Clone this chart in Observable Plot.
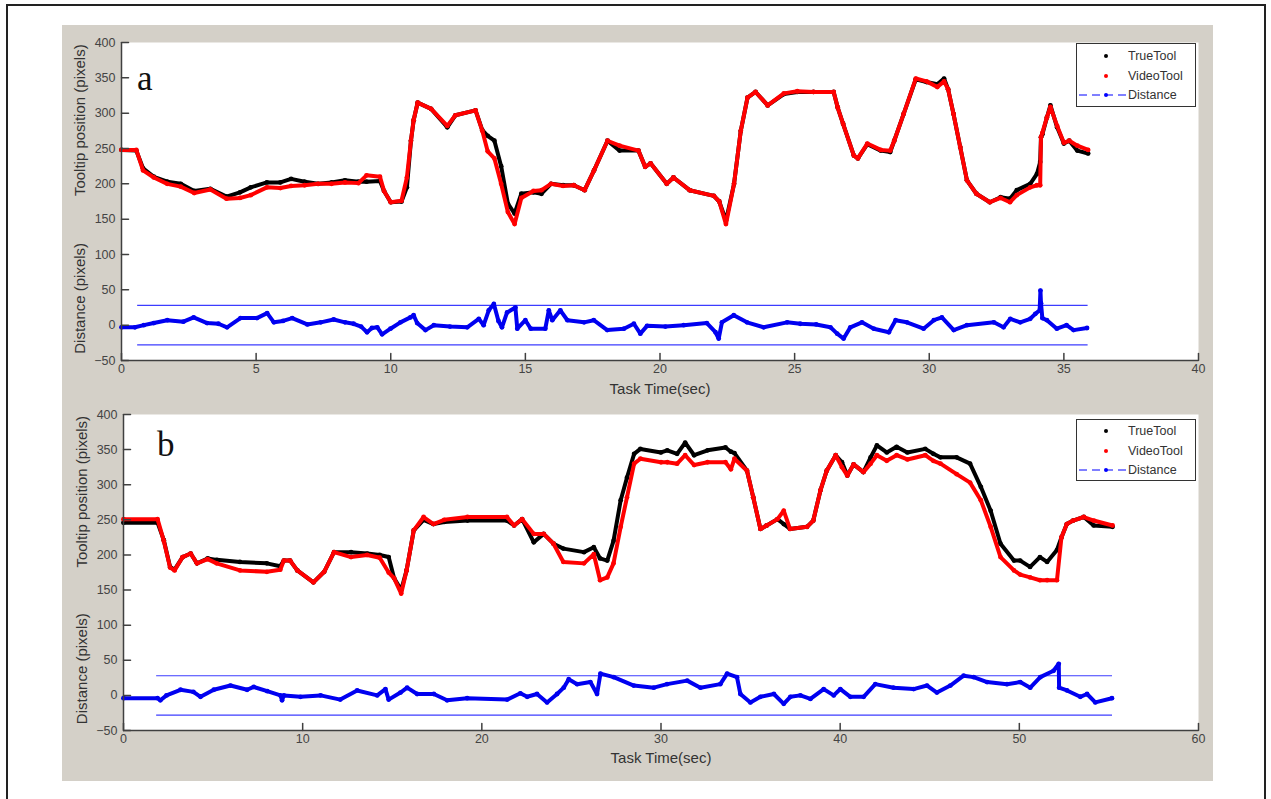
<!DOCTYPE html>
<html><head><meta charset="utf-8">
<script src="https://cdn.jsdelivr.net/npm/d3@7"></script>
<script src="https://cdn.jsdelivr.net/npm/@observablehq/plot@0.6"></script>
<style>
body{margin:0;background:#fff;}
#wrap{position:relative;width:1271px;height:799px;overflow:hidden;font-family:"Liberation Sans",Arial,sans-serif;background:#fff;}
#border{position:absolute;left:6px;top:4px;width:1260px;height:820px;border:2px solid #222;box-sizing:border-box;}
#fig{position:absolute;left:62px;top:25px;width:1151px;height:756px;background:#d4d0c8;}
.panel{position:absolute;left:0;}
.legend{position:absolute;left:1014px;width:120px;background:#fff;border:1.5px solid #333;box-sizing:border-box;font-size:12.5px;color:#333;}
.legend .row{position:absolute;left:0;height:16px;width:118px;}
.legend .row svg{position:absolute;left:0;top:0;}
.legend .row span{position:absolute;left:51px;top:0;line-height:16px;}
.tag{position:absolute;font-family:"Liberation Serif","Times New Roman",serif;font-size:35px;color:#111;line-height:1;}
</style></head>
<body>
<div id="wrap">
  <div id="border"></div>
  <div id="fig">
    <div id="pa" class="panel" style="top:0"></div>
    <div id="pb" class="panel" style="top:373px"></div>
    <div class="tag" style="left:75px;top:36px">a</div>
    <div class="tag" style="left:95px;top:402px">b</div>
    <div class="legend" style="top:18px;height:64px">
      <div class="row" style="top:4px"><svg width="50" height="16"><circle cx="29" cy="8" r="2" fill="#000"/></svg><span>TrueTool</span></div>
      <div class="row" style="top:24px"><svg width="50" height="16"><circle cx="29" cy="8" r="2" fill="#f00"/></svg><span>VideoTool</span></div>
      <div class="row" style="top:43px"><svg width="50" height="16"><line x1="2" x2="50" y1="8" y2="8" stroke="#00f" stroke-dasharray="8,5"/><circle cx="29" cy="8" r="2" fill="#00f"/></svg><span>Distance</span></div>
    </div>
    <div class="legend" style="top:394px;height:62px">
      <div class="row" style="top:3px"><svg width="50" height="16"><circle cx="29" cy="8" r="2" fill="#000"/></svg><span>TrueTool</span></div>
      <div class="row" style="top:23px"><svg width="50" height="16"><circle cx="29" cy="8" r="2" fill="#f00"/></svg><span>VideoTool</span></div>
      <div class="row" style="top:42px"><svg width="50" height="16"><line x1="2" x2="50" y1="8" y2="8" stroke="#00f" stroke-dasharray="8,5"/><circle cx="29" cy="8" r="2" fill="#00f"/></svg><span>Distance</span></div>
    </div>
  </div>
</div>
<script>
// ---------- Panel a data ----------
const aTime  = [0,0.55,0.8,1.2,1.7,2.2,2.7,3.3,3.9,4.4,4.8,5.4,5.9,6.3,6.8,7.3,7.8,8.3,8.8,9.1,9.6,9.75,10.0,10.4,10.6,10.75,10.85,11.0,11.5,12.1,12.4,13.15,13.4,13.6,13.85,14.1,14.35,14.6,14.85,15.3,15.6,15.95,16.4,16.8,17.2,17.55,18.05,18.5,19.2,19.45,19.65,20.25,20.5,21.1,22.0,22.2,22.45,22.75,23.0,23.25,23.55,24.0,24.6,25.1,25.7,26.45,26.6,26.8,27.2,27.35,27.7,28.2,28.55,28.7,29.05,29.5,29.9,30.3,30.55,30.7,30.9,31.15,31.4,31.75,32.25,32.65,33.0,33.25,33.75,34.0,34.12,34.15,34.2,34.37,34.5,34.75,35.0,35.2,35.5,35.9];
const aTrue  = [248,247,222,210,203,200,190,193,182,188,195,202,202,207,203,200,202,205,203,203,204,190,174,175,195,261,290,315,306,280,297,304,276,268,261,225,172,158,186,188,186,200,198,198,191,219,261,247,247,224,229,200,209,191,183,175,148,200,275,322,330,311,327,330,330,330,308,285,240,236,256,247,245,261,299,348,344,341,349,334,299,252,205,186,174,181,179,191,200,214,231,266,270,294,311,280,257,261,247,243];
const aVideo = [248,248,219,209,200,196,187,192,179,180,184,195,194,197,198,200,200,202,201,212,210,190,174,176,209,261,290,315,306,282,297,304,275,246,236,200,160,143,180,190,191,200,197,198,191,219,261,254,247,224,229,200,209,191,183,175,143,200,275,322,330,311,328,331,330,330,308,285,240,236,257,248,247,261,299,349,345,337,345,334,299,252,205,186,174,180,174,184,195,198,198,266,272,294,309,282,258,261,254,248];
const aDistTime = [0,0.5,0.83,1.2,1.7,2.3,2.68,3.18,3.6,3.92,4.42,5.03,5.41,5.66,6.0,6.34,6.9,7.4,7.88,8.3,8.62,8.9,9.12,9.3,9.5,9.68,9.99,10.36,10.73,10.85,10.98,11.29,11.6,12.2,12.84,13.27,13.45,13.64,13.83,14.0,14.13,14.32,14.63,14.7,15.0,15.2,15.74,15.87,16.0,16.3,16.56,17.18,17.54,18.04,18.66,19.03,19.27,19.52,20.2,20.88,21.74,22.06,22.18,22.3,22.74,23.23,23.85,24.72,25.21,25.8,26.33,26.58,26.82,27.07,27.5,27.94,28.5,28.75,29.17,29.79,30.17,30.47,30.91,31.4,32.4,32.76,33.01,33.38,33.75,33.94,34.1,34.13,34.15,34.2,34.37,34.74,35.1,35.36,35.86];
const aDist = [-3,-3,0,3,7,5,11,3,2,-3,10,10,17,4,6,10,1,4,8,4,2,-2,-10,-4,-3,-13,-5,4,11,14,3,-7,0,-2,-3,9,0,21,30,6,-3,18,25,-5,7,-5,-5,21,7,21,7,4,7,-7,-5,2,-12,-1,-2,0,3,-10,-19,4,14,4,-3,4,2,1,-3,-12,-19,-3,4,-5,-10,7,4,-5,7,11,-7,0,4,-3,9,4,9,16,21,49,31,10,7,-5,0,-7,-4];
const aLimitSpan = [0.6, 35.9];

// ---------- Panel b data ----------
const bTime  = [0,1.9,2.25,2.6,2.85,3.3,3.75,4.1,4.7,5.2,6.5,8.0,8.75,8.95,9.3,9.7,10.6,11.2,11.75,12.7,13.6,14.3,14.8,15.1,15.5,15.8,16.2,16.75,17.3,17.9,19.2,21.4,21.8,22.25,22.9,23.45,24.0,24.55,25.7,26.25,26.6,27.0,27.35,27.75,28.1,28.5,28.85,30.0,30.35,30.9,31.35,31.85,32.6,33.6,33.9,34.1,34.8,35.15,35.55,35.9,36.5,36.85,37.2,38.15,38.5,38.9,39.25,39.75,40.1,40.4,40.75,41.3,41.7,42.05,42.6,43.15,43.75,44.75,45.2,45.6,46.5,47.25,47.85,48.4,48.95,49.7,50.05,50.6,51.15,51.55,52.1,52.35,52.65,53.0,53.6,54.15,55.2];
const bTrue  = [246,246,221,183,179,197,202,188,195,193,190,188,184,192,192,178,161,176,204,204,202,200,197,167,150,178,235,250,244,247,249,249,242,251,218,230,216,209,204,211,195,192,220,278,310,344,351,346,349,344,360,342,349,353,347,345,320,282,237,242,251,244,237,240,249,292,320,342,332,313,329,318,339,356,346,354,346,351,344,339,339,330,297,263,216,192,192,183,197,190,207,225,244,249,254,242,240];
const bVideo = [251,251,220,182,178,197,202,188,194,188,178,176,179,192,192,178,161,176,204,197,200,196,175,167,145,178,235,254,244,250,254,254,242,251,230,230,216,190,188,201,164,168,188,240,282,330,337,332,332,330,342,328,332,332,322,337,320,282,237,242,251,263,237,240,249,292,320,342,325,313,329,318,330,342,334,342,336,342,334,330,315,303,278,240,197,178,172,168,164,164,164,225,244,249,254,249,242];
const bDistTime = [0,1.9,2.06,2.4,3.18,3.9,4.3,5.04,5.97,6.9,7.27,8.02,8.76,8.85,8.95,9.88,11.0,12.1,13.04,14.16,14.62,14.8,15.46,15.83,16.39,17.32,18.06,19.18,21.41,22.15,22.53,23.08,23.64,24.2,24.57,24.85,25.32,26.06,26.43,26.62,27.36,28.48,29.6,30.34,31.46,32.2,33.31,33.69,34.24,34.43,34.99,35.55,36.3,36.85,37.22,37.78,38.34,39.08,39.64,40.01,40.57,41.31,41.96,42.98,44.1,44.85,45.4,46.15,46.89,47.45,48.2,49.31,50.05,50.61,51.17,51.91,52.2,52.22,52.66,53.4,53.78,54.24,55.17];
const bDist = [-4,-4,-7,0,8,5,-2,8,14,8,12,6,0,-7,0,-2,0,-6,7,0,9,-6,4,11,2,2,-7,-4,-6,3,-2,2,-10,2,11,23,16,19,2,31,26,14,11,16,21,11,16,31,26,2,-10,-2,2,-12,-2,0,-5,9,0,9,-2,-2,16,11,9,14,4,14,28,26,19,16,19,11,26,35,45,11,7,-2,2,-10,-4];
const bLimitSpan = [1.85, 55.2];

// ---------- shared ----------
const limits = [28, -28];
const yTicks = [-50,0,50,100,150,200,250,300,350,400];
const aXTicks = [0,5,10,15,20,25,30,35,40];
const bXTicks = [0,10,20,30,40,50,60];
const xLabel = "Task Time(sec)";
const yLabelTop = "Tooltip position (pixels)";
const yLabelBottom = "Distance (pixels)";

const tickShape = {draw(c, l){ c.moveTo(0,0); c.lineTo(0,-l); }};
const axisCol = "#404040";

function zip(ts, vs){ return ts.map((t,i)=>({t, v: vs[i]})); }

function panel(o){
  const trueD = zip(o.time, o.trueV), vidD = zip(o.time, o.videoV), distD = zip(o.distTime, o.dist);
  return Plot.plot({
    width: 1151, height: o.height,
    marginLeft: o.ml, marginRight: 15, marginTop: o.mt, marginBottom: o.mb,
    x: {domain: o.xDomain, label: null},
    y: {domain: [-50, 400], label: null},
    style: {background: "transparent", color: "#444", fontFamily: "Liberation Sans, Arial, sans-serif", fontSize: "12px", overflow: "visible"},
    marks: [
      Plot.frame({fill: "white", stroke: "none"}),
      Plot.ruleY(limits, {x1: o.limitSpan[0], x2: o.limitSpan[1], stroke: "#3c3cff", strokeWidth: 1.2}),
      Plot.line(trueD, {x: "t", y: "v", stroke: "#000", strokeWidth: 4, strokeLinejoin: "round"}),
      Plot.dot(trueD, {x: "t", y: "v", r: 2.4, fill: "#000"}),
      Plot.line(vidD, {x: "t", y: "v", stroke: "#f00", strokeWidth: 4, strokeLinejoin: "round"}),
      Plot.dot(vidD, {x: "t", y: "v", r: 2.4, fill: "#f00"}),
      Plot.line(distD, {x: "t", y: "v", stroke: "#0000f0", strokeWidth: 4, strokeLinejoin: "round"}),
      Plot.dot(distD, {x: "t", y: "v", r: 2.4, fill: "#0000f0"}),
      Plot.ruleX([o.xDomain[0]], {stroke: axisCol, strokeWidth: 1.5}),
      Plot.ruleY([-50], {stroke: axisCol, strokeWidth: 1.5}),
      Plot.vector(o.xTicks, {x: d => d, y: -50, length: 7, rotate: 0, anchor: "start", shape: tickShape, stroke: axisCol}),
      Plot.vector(yTicks, {x: o.xDomain[0], y: d => d, length: 7, rotate: 90, anchor: "start", shape: tickShape, stroke: axisCol}),
      Plot.axisX(o.xTicks, {tickSize: 0, tickPadding: 4, fontSize: 12.5, fill: "#444"}),
      Plot.axisY(yTicks, {tickSize: 0, tickPadding: 6, fontSize: 12.5, fill: "#444"}),
      Plot.text([xLabel], {frameAnchor: "bottom", x: o.xCenter, dy: o.xLabelDy, fontSize: 15, fill: "#333"}),
      Plot.text([yLabelTop], {frameAnchor: "left", textAnchor: "middle", y: 290, dx: -41, rotate: -90, fontSize: 15, fill: "#333"}),
      Plot.text([yLabelBottom], {frameAnchor: "left", textAnchor: "middle", y: 38, dx: -41, rotate: -90, fontSize: 15, fill: "#333"})
    ]
  });
}

document.getElementById("pa").append(panel({
  time: aTime, trueV: aTrue, videoV: aVideo, distTime: aDistTime, dist: aDist,
  limitSpan: aLimitSpan, xDomain: [0, 40], xTicks: aXTicks, xCenter: 20,
  height: 373, ml: 59, mt: 17, mb: 38, xLabelDy: 33
}));
document.getElementById("pb").append(panel({
  time: bTime, trueV: bTrue, videoV: bVideo, distTime: bDistTime, dist: bDist,
  limitSpan: bLimitSpan, xDomain: [0, 60], xTicks: bXTicks, xCenter: 30,
  height: 383, ml: 61, mt: 16, mb: 51, xLabelDy: 32
}));
</script>
</body></html>
